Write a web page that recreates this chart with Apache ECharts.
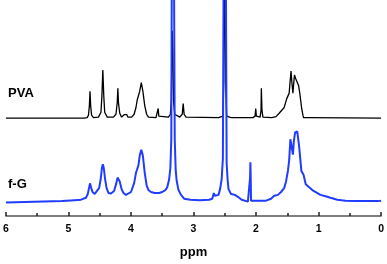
<!DOCTYPE html>
<html>
<head>
<meta charset="utf-8">
<script src="https://cdn.jsdelivr.net/npm/echarts@6/dist/echarts.min.js"></script>
<style>
html,body{margin:0;padding:0;background:#fff;}
#chart{width:387px;height:264px;}
</style>
</head>
<body>
<div id="chart"></div>
<script>
// x: chemical shift (ppm), y: intensity (arbitrary units, stacked offset as drawn)
const xTicks = [6, 5, 4, 3, 2, 1, 0];
const seriesNames = ['PVA', 'f-G'];

const pvaSpectrum = [
  [6.0,102],[5.76,102],[5.74,103.5],[5.72,102],[4.75,102],[4.70,102.5],[4.68,105],[4.665,115],
  [4.655,130],[4.645,115],[4.63,105],[4.60,102.5],[4.52,103],[4.48,108],[4.465,125],[4.45,152],
  [4.435,125],[4.42,108],[4.38,103],[4.28,103],[4.24,106],[4.22,118],[4.21,133],[4.20,118],
  [4.18,107],[4.15,103],[4.12,104.5],[4.11,105.5],[4.09,103.5],[4.065,105.5],[4.05,103],[3.99,103],
  [3.95,106],[3.92,113],[3.90,121],[3.88,123],[3.86,130],[3.835,139],[3.81,130],[3.78,115],
  [3.75,106],[3.72,103],[3.60,102.5],[3.575,104],[3.565,112],[3.555,104],[3.54,102.5],[3.40,103],
  [3.37,106],[3.355,120],[3.345,170],[3.34,193],[3.33,170],[3.32,120],[3.30,106],[3.22,103],
  [3.18,106],[3.165,117],[3.16,117],[3.15,106],[3.12,103],[2.60,102.5],[2.53,104],[2.515,140],
  [2.50,300],[2.485,140],[2.47,104],[2.40,102.5],[2.05,102.5],[2.015,104],[2.005,112],[1.995,104],
  [1.98,103],[1.935,103],[1.92,110],[1.915,133],[1.905,110],[1.89,103],[1.75,102.5],[1.68,103.5],
  [1.63,107],[1.55,113],[1.51,122],[1.47,128],[1.455,140],[1.44,151],[1.425,138],[1.41,128],
  [1.395,140],[1.385,147],[1.365,143],[1.35,142],[1.34,143],[1.32,136],[1.30,128],[1.27,112],
  [1.25,105],[1.24,102.5],[1.14,102.5],[1.13,103.5],[1.12,102.5],[0,102]
];

const fgSpectrum = [
  [6.0,14],[5.7,14.5],[5.4,15],[5.1,15.5],[4.9,16.5],[4.80,17],[4.72,19],[4.69,23],[4.675,28],
  [4.655,34],[4.635,29],[4.615,25],[4.58,23],[4.55,24],[4.51,29],[4.485,38],[4.465,50],[4.45,54],
  [4.435,50],[4.415,39],[4.39,29],[4.36,24],[4.32,23.5],[4.27,26],[4.235,34],[4.215,40],[4.20,41],
  [4.18,36],[4.15,28],[4.12,24],[4.08,22],[4.05,22],[4.00,25],[3.95,34],[3.92,45],[3.90,49],[3.88,53],
  [3.86,63],[3.835,69],[3.81,63],[3.78,45],[3.75,32],[3.72,27],[3.68,25],[3.62,24],[3.55,24],
  [3.50,25],[3.45,27],[3.42,30],[3.39,38],[3.37,50],[3.355,80],[3.345,300],[3.33,400],[3.315,300],
  [3.30,80],[3.285,48],[3.27,37],[3.24,27],[3.20,22],[3.15,18],[3.05,17],[2.90,16.5],[2.75,17],
  [2.70,18],[2.675,24],[2.66,21],[2.63,19],[2.60,22],[2.575,28],[2.55,38],[2.53,60],[2.515,300],
  [2.50,400],[2.485,300],[2.47,55],[2.455,38],[2.44,28],[2.40,23],[2.34,22],[2.31,23],[2.29,20],
  [2.23,17],[2.13,15],[2.10,16],[2.095,40],[2.09,56],[2.085,40],[2.08,16],[2.06,15],[2.00,16],
  [1.97,17],[1.93,16],[1.84,16],[1.76,18],[1.71,21],[1.65,22],[1.60,25],[1.55,29],[1.52,36],
  [1.49,47],[1.47,58],[1.45,80],[1.43,82],[1.41,64],[1.395,78],[1.375,87],[1.355,85],[1.34,88],
  [1.31,72],[1.29,58],[1.275,47],[1.24,43],[1.23,44],[1.205,33],[1.10,27],[0.97,22],[0.86,20],
  [0.84,21],[0.81,19],[0.70,17],[0.57,16],[0.40,15.5],[0.20,15.5],[0.05,15.5],[0,16]
];

const chart = echarts.init(document.getElementById('chart'), null, {renderer: 'canvas'});
chart.setOption({
  animation: false,
  backgroundColor: '#fff',
  grid: {left: 3.3, right: 4, top: 0, bottom: 39, containLabel: false},
  xAxis: {
    type: 'value', min: 0, max: 6, interval: 1, inverse: true,
    name: 'ppm', nameLocation: 'middle', nameGap: 30,
    nameTextStyle: {fontFamily: 'Liberation Sans', fontWeight: 'bold', fontSize: 13, color: '#000'},
    axisLine: {show: true, onZero: false, lineStyle: {color: '#555', width: 1.5}},
    axisTick: {show: true, inside: true, length: 4, lineStyle: {color: '#222', width: 1.5}},
    minorTick: {show: true, splitNumber: 2, length: 3, lineStyle: {color: '#222', width: 1.5}},
    splitLine: {show: false},
    axisLabel: {
      margin: 8, fontFamily: 'Liberation Sans', fontWeight: 'bold', fontSize: 10.5, color: '#000',
      formatter: v => xTicks.includes(v) ? String(v) : ''
    }
  },
  yAxis: {type: 'value', min: 0, max: 225, show: false},
  graphic: [
    {type: 'text', left: 8, top: 87, style: {text: seriesNames[0], font: 'bold 13px "Liberation Sans"', fill: '#000'}},
    {type: 'text', left: 8, top: 177.5, style: {text: seriesNames[1], font: 'bold 13px "Liberation Sans"', fill: '#000'}}
  ],
  series: [
    {name: seriesNames[0], type: 'line', data: pvaSpectrum, showSymbol: false, clip: true,
     lineStyle: {color: '#000', width: 1.3}, z: 2},
    {name: seriesNames[1], type: 'line', data: fgSpectrum, showSymbol: false, clip: true,
     lineStyle: {color: '#1f3cff', width: 2}, z: 3}
  ]
});
</script>
</body>
</html>
